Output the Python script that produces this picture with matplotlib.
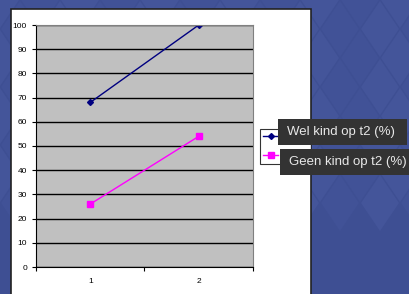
import matplotlib.pyplot as plt
from matplotlib.patches import Rectangle, Polygon

# data
categories = [1, 2]
wel_kind = [68, 100]
geen_kind = [26, 54]
series_names = ['Wel kind op t2 (%)', 'Geen kind op t2 (%)']

W, H = 410, 294
fig = plt.figure(figsize=(W / 100, H / 100), dpi=100)
fig.patch.set_facecolor('#3e4f93')

def fx(px):
    return px / W

def fy(py):
    return 1 - py / H

# subtle diamond pattern in the slide background
dw, dh = 40, 58
for row in range(-1, 8):
    for col in range(-1, 12):
        cx = col * dw + (dw / 2 if row % 2 else 0)
        cy = row * dh / 2
        shade = '#44559a' if (row + col) % 2 == 0 else '#415297'
        pts = [(fx(cx), fy(cy - dh / 2 + 1)), (fx(cx + dw / 2 - 1), fy(cy)),
               (fx(cx), fy(cy + dh / 2 - 1)), (fx(cx - dw / 2 + 1), fy(cy))]
        fig.patches.append(Polygon(pts, closed=True, transform=fig.transFigure,
                                   facecolor=shade, edgecolor='none', zorder=-10))

# white chart area
chart_bg = Rectangle((fx(11), fy(300)), fx(300), fy(9) - fy(300),
                     transform=fig.transFigure, facecolor='white',
                     edgecolor='#222222', linewidth=1.2, zorder=-5)
fig.patches.append(chart_bg)

ax = fig.add_axes([fx(36), fy(267), fx(253) - fx(36), fy(25) - fy(267)])
ax.set_facecolor('#c0c0c0')
ax.plot(categories, wel_kind, color='#000080', marker='D', markersize=3, linewidth=1)
ax.plot(categories, geen_kind, color='#ff00ff', marker='s', markersize=4, linewidth=1)

ax.set_xlim(0.5, 2.5)
ax.set_ylim(0, 100)
ax.set_yticks(range(0, 101, 10))
ax.set_xticks([0.5, 1.5, 2.5])
ax.set_xticklabels([])
ax.set_xticks(categories, minor=True)
ax.set_xticklabels([str(c) for c in categories], minor=True)
ax.tick_params(axis='x', which='minor', length=0, pad=8)
ax.tick_params(axis='both', which='major', length=3, width=0.8, color='black')
for lab in ax.get_yticklabels() + ax.get_xticklabels(minor=True):
    lab.set_fontsize(6)
    lab.set_family('Liberation Sans')
ax.grid(True, axis='y', color='black', linewidth=1)
ax.set_axisbelow(True)
for side in ['top', 'right']:
    ax.spines[side].set_color('#808080')
    ax.spines[side].set_linewidth(0.8)
ax.spines['left'].set_color('black')
ax.spines['bottom'].set_color('black')

# legend box (mostly hidden below tooltips, clipped to the chart area)
leg = ax.legend(series_names, loc='upper left', bbox_to_anchor=(fx(260), fy(129)),
                bbox_transform=fig.transFigure, fontsize=6, frameon=True,
                fancybox=False, edgecolor='black', handlelength=1.8,
                borderaxespad=0, labelcolor='white', labelspacing=1.2)
leg.get_frame().set_linewidth(0.8)
leg.set_zorder(5)
leg.get_frame().set_clip_path(chart_bg)
for t in leg.get_texts():
    t.set_clip_path(chart_bg)

# tooltip overlays
boxes = [(278, 119, 407, 145), (280, 149, 410, 175)]
for (x0, y0, x1, y1), name in zip(boxes, series_names):
    fig.patches.append(Rectangle((fx(x0), fy(y1)), fx(x1 - x0), fy(y0) - fy(y1),
                                 transform=fig.transFigure, facecolor='#333333',
                                 edgecolor='none', zorder=10))
    fig.text(fx(x0 + 9), fy((y0 + y1) / 2), name, color='#e8e8e8', fontsize=9.5,
             family='Liberation Sans', va='center', ha='left', zorder=11)

fig.savefig('out.png', dpi=100, facecolor=fig.get_facecolor())
